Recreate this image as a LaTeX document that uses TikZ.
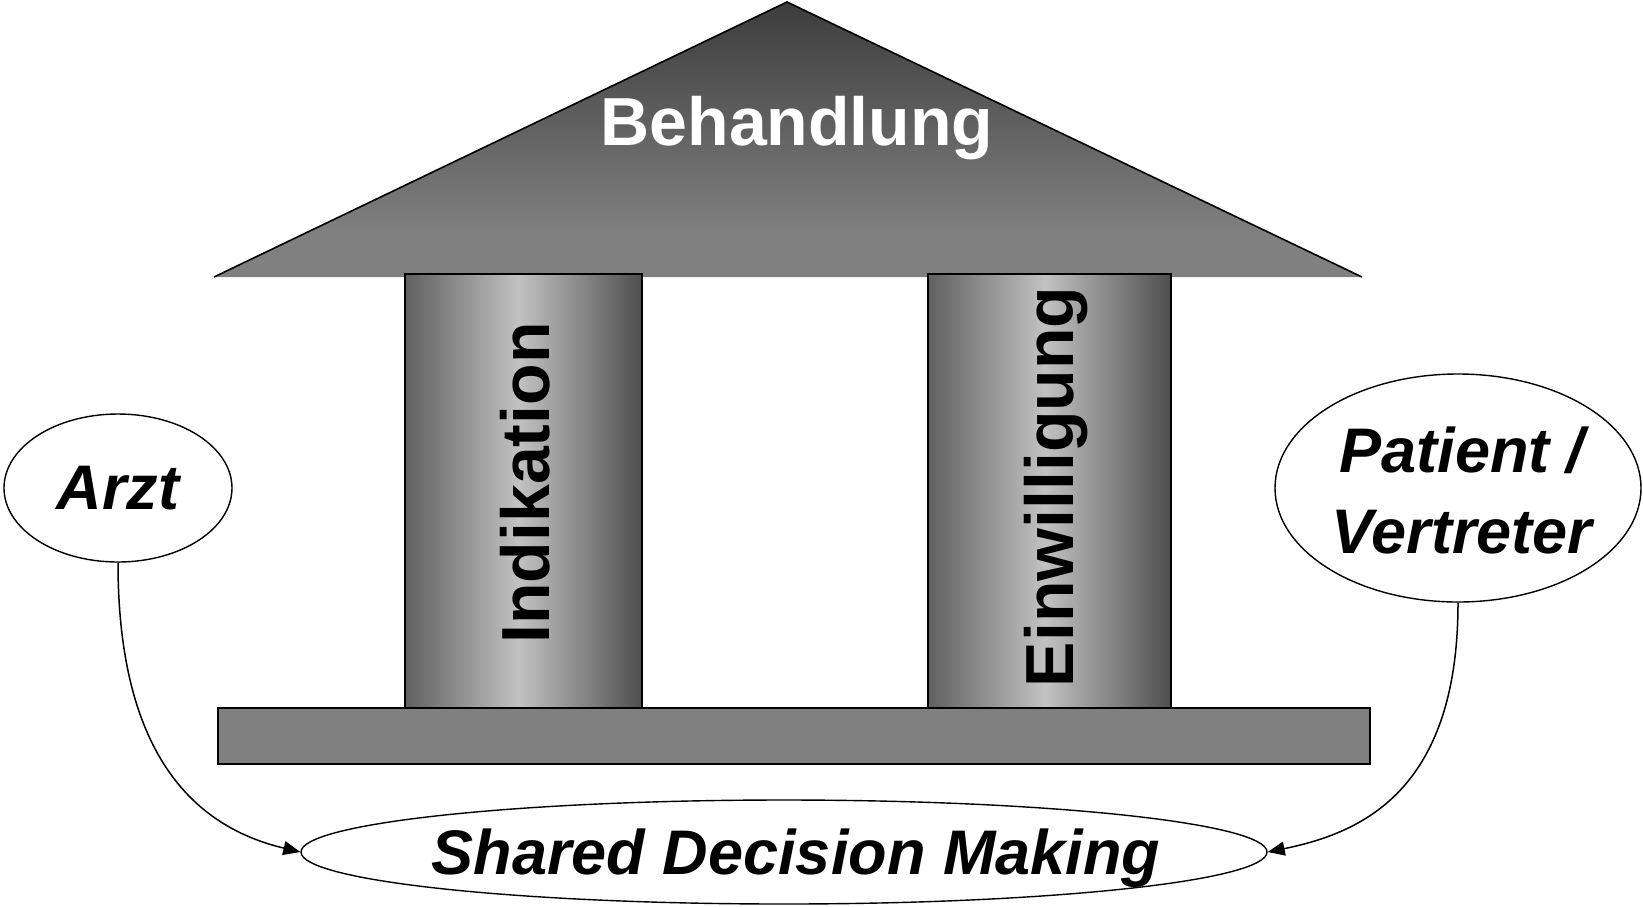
\documentclass[tikz,border=0pt]{standalone}
\usepackage{fontspec}
\setmainfont{Liberation Sans}
\usetikzlibrary{shapes.geometric,arrows.meta}
\definecolor{roofdark}{HTML}{3C3C3C}
\definecolor{midgray}{HTML}{808080}
\definecolor{pilleft}{HTML}{606060}
\definecolor{pilright}{HTML}{4E4E4E}
\definecolor{pillight}{HTML}{C2C2C2}
\pgfdeclareverticalshading{roofsh}{100bp}{color(0bp)=(midgray); color(33bp)=(midgray); color(75bp)=(roofdark); color(100bp)=(roofdark)}
\pgfdeclarehorizontalshading{pillarsh}{100bp}{color(0bp)=(pilleft); color(25bp)=(pilleft); color(49bp)=(pillight); color(75bp)=(pilright); color(100bp)=(pilright)}
\tikzset{
  pillar/.style={draw=black, line width=1.6pt, shading=pillarsh},
  bigbold/.style={font=\fontsize{68}{80}\selectfont\bfseries, inner sep=0pt},
  ovaltext/.style={font=\fontsize{63}{81}\selectfont\bfseries\itshape, align=center, text depth=0pt, inner sep=0pt},
  oval/.style={ellipse, draw=black, line width=1.4pt, fill=white, inner sep=0pt},
  conn/.style={line width=1.5pt, -{Triangle[length=17pt,width=14pt]}}
}
\begin{document}
\begin{tikzpicture}[x=1pt,y=-1pt]
\useasboundingbox (0,0) rectangle (1643,906);
% roof
\coordinate (apex) at (787,2);
\coordinate (rl) at (214,277);
\coordinate (rr) at (1362,277);
\shade[shading=roofsh] (rl) -- (apex) -- (rr) -- cycle;
\draw[line width=1.6pt, line join=miter] (rl) -- (apex) -- (rr);
\node[bigbold, text=white, anchor=base] (beh) at (797,145) {Behandlung};
% pillars
\path[pillar] (405,274) rectangle (642,708);
\path[pillar] (928,274) rectangle (1171,708);
\node[bigbold, rotate=90, anchor=base] (ind) at (549,483) {Indikation};
\node[bigbold, rotate=90, anchor=base] (ein) at (1073,487) {Einwilligung};
% base
\draw[line width=1.6pt, fill=midgray] (218,708) rectangle (1370,764);
% ellipses
\node[oval, minimum width=228pt, minimum height=148pt] (arzt) at (118,488) {};
\node[ovaltext] (arzttext) at (arzt.center) {Arzt};
\node[oval, minimum width=366pt, minimum height=228pt] (pat) at (1458,488) {};
\node[ovaltext] (pattext) at (1462,490) {Patient /\\Vertreter};
\node[oval, minimum width=966pt, minimum height=104pt] (sdm) at (784,852) {};
\node[ovaltext] (sdmtext) at (796,852) {Shared Decision Making};
% connectors
\draw[conn] (arzt.south) .. controls +(0,198) and +(-101,-24) .. (sdm.west);
\draw[conn] (pat.south) .. controls +(0,189) and +(93,-19) .. (sdm.east);
\end{tikzpicture}
\end{document}
